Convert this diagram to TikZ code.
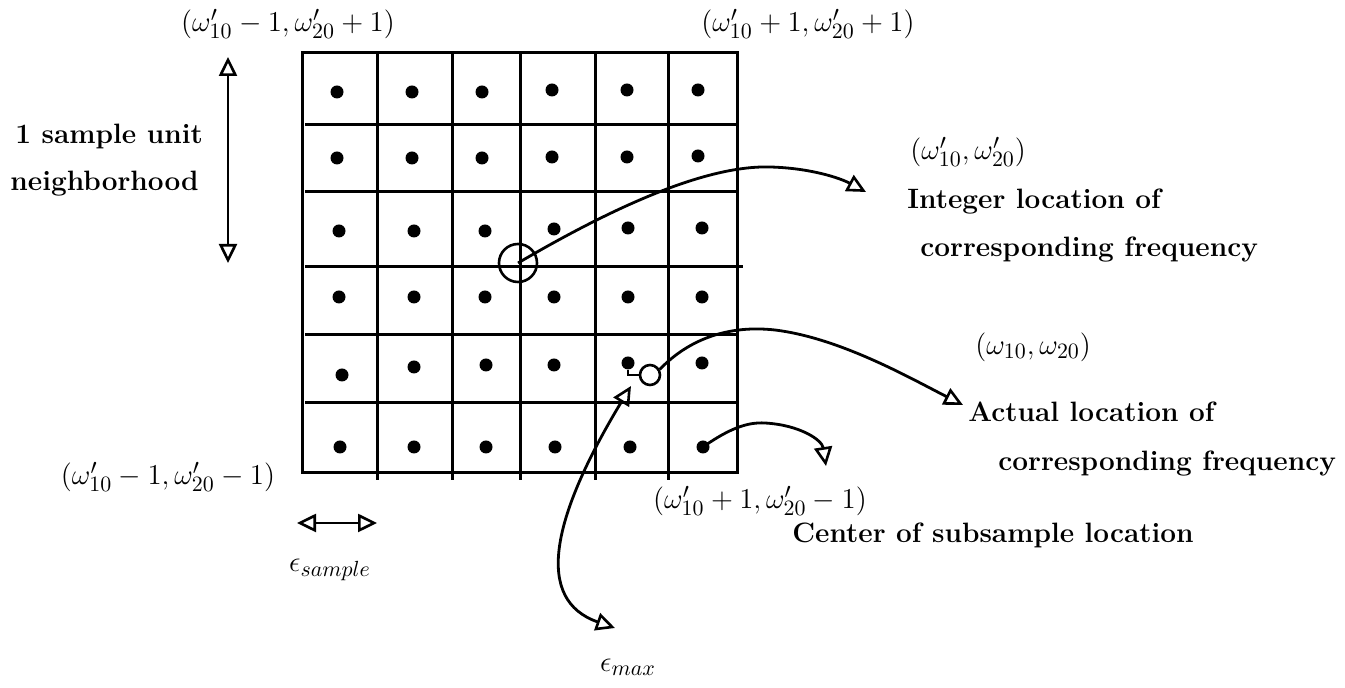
\documentclass[tikz,border=0pt]{standalone}
\usetikzlibrary{arrows.meta}
\begin{document}
\begin{tikzpicture}[x=0.5pt,y=-0.5pt,
  gridline/.style={line width=1.5pt},
  dotmark/.style={circle, fill=black, inner sep=0pt, minimum size=6.5pt},
  ring/.style={circle, draw=black, inner sep=0pt, line width=1.3pt},
  conn/.style={line width=1.4pt, -{Triangle[open,length=9.5pt,width=9pt,line width=1.3pt]}},
  dconn/.style={line width=1.4pt, {Triangle[open,length=9.5pt,width=9pt,line width=1.3pt]}-{Triangle[open,length=9.5pt,width=9pt,line width=1.3pt]}},
  txt/.style={font=\fontsize{14}{17}\selectfont\bfseries, inner sep=0pt},
  lab/.style={font=\fontsize{15}{17}\selectfont, inner sep=0pt}]
\useasboundingbox (0,0) rectangle (1345,688);

% grid
\draw[gridline] (302,53) rectangle (737,473);
\foreach \x in {377,452,520,595,668} \draw[gridline] (\x,53) -- (\x,480);
\foreach \y in {125,192,335,403} \draw[gridline] (305,\y) -- (737,\y);
\draw[gridline] (305,267) -- (743,267);

% dots
\foreach \n/\x/\y in {
  11/337/92, 12/412/92, 13/482/92, 14/552/90, 15/627/90, 16/698/90,
  21/337/158, 22/412/158, 23/482/158, 24/552/157, 25/627/157, 26/698/156,
  31/339/231, 32/414/231, 33/485/231, 34/554/229, 35/628/228, 36/702/228,
  41/339/297, 42/414/297, 43/485/297, 44/554/297, 45/628/297, 46/702/297,
  51/342/375, 52/414/367, 53/486/365, 54/554/365, 55/628/363, 56/702/363,
  61/340/447, 62/414/447, 63/486/447, 64/555/447, 65/630/447, 66/703/447}
  \node[dotmark] (d\n) at (\x,\y) {};

% circles
\node[ring, minimum size=19pt] (big) at (518,263) {};
\node[ring, minimum size=10pt] (small) at (650,375) {};
\draw[line width=1.3pt] (d55.south) |- (small.west);

% coordinates for arrow ends
\coordinate (inttip) at (866,192);
\coordinate (acttip) at (963,405);
\coordinate (centip) at (826,466);
\coordinate (emaxa) at (631,386);
\coordinate (emaxb) at (615,628);
\coordinate (vtop) at (228,57);
\coordinate (vbot) at (228,263);
\coordinate (hl) at (297,523);
\coordinate (hr) at (377,523);

% connectors
\draw[conn] (big.center) .. controls (600,215) and (700,165) .. (770,167)
  .. controls (810,168) and (840,178) .. (inttip);
\draw[conn] (small.30) .. controls (690,338) and (730,325) .. (775,330)
  .. controls (840,338) and (910,378) .. (acttip);
\draw[conn] (d66.center) .. controls (730,428) and (748,422) .. (765,423)
  .. controls (800,425) and (822,440) .. (centip);
\draw[dconn] (emaxa) .. controls (550,520) and (535,600) .. (emaxb);
\draw[dconn] (vtop) -- (vbot);
\draw[dconn] (hl) -- (hr);

% labels
\node[lab] (tl) at (288,24) {$(\omega'_{10}-1,\omega'_{20}+1)$};
\node[lab] (tr) at (808,24) {$(\omega'_{10}+1,\omega'_{20}+1)$};
\node[lab] (bl) at (168,477) {$(\omega'_{10}-1,\omega'_{20}-1)$};
\node[lab] (br) at (760,501) {$(\omega'_{10}+1,\omega'_{20}-1)$};
\node[txt, anchor=west] (s1) at (15,137) {1 sample unit};
\node[txt, anchor=west] (s2) at (10,184) {neighborhood};
\node[lab, anchor=west] (ip) at (910,152) {$(\omega'_{10},\omega'_{20})$};
\node[txt, anchor=west] (i1) at (907,202) {Integer location of};
\node[txt, anchor=west] (i2) at (920,250) {corresponding frequency};
\node[lab, anchor=west] (ap) at (975,347) {$(\omega_{10},\omega_{20})$};
\node[txt, anchor=west] (a1) at (968,412) {Actual location of};
\node[txt, anchor=west] (a2) at (998,464) {corresponding frequency};
\node[txt, anchor=west] (c1) at (792,535) {Center of subsample location};
\node[lab] (es) at (330,570) {$\epsilon_{sample}$};
\node[lab] (em) at (628,667) {$\epsilon_{max}$};
\end{tikzpicture}
\end{document}
